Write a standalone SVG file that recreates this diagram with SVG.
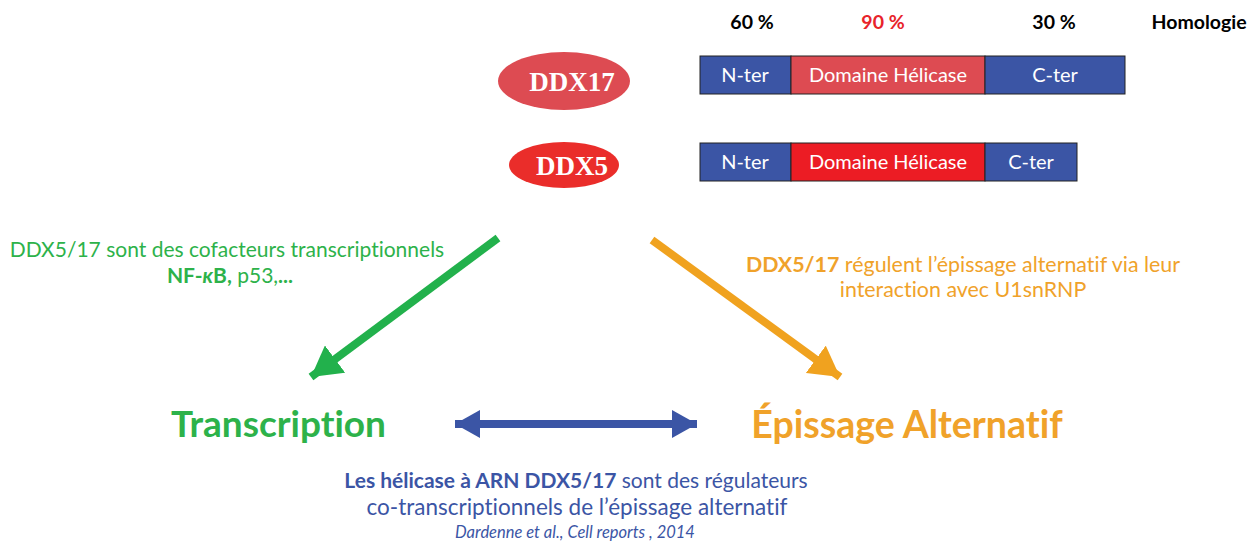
<svg xmlns="http://www.w3.org/2000/svg" width="1255" height="544" viewBox="0 0 1255 544">
<style>
.lab{font-family:Lato,"Open Sans","Liberation Sans",sans-serif;font-variant-ligatures:none}
.hd{font-size:19.5px;font-weight:bold;text-anchor:middle}
.bt{font-size:20px;fill:#fff;text-anchor:middle}
.ell{font-family:"Liberation Serif",serif;font-weight:bold;font-size:27px;fill:#fff;text-anchor:middle}
.seg{stroke:#222;stroke-width:1}
.g{fill:#2DB24A}
.o{fill:#F0A22A}
.b{fill:#3B55A5}
</style>
<defs>
<marker id="ag" markerUnits="userSpaceOnUse" markerWidth="32" markerHeight="34" refX="30" refY="17" orient="auto"><path d="M0,0 L30,17 L0,34 Z" fill="#22B14C"/></marker>
<marker id="ao" markerUnits="userSpaceOnUse" markerWidth="32" markerHeight="34" refX="30" refY="17" orient="auto"><path d="M0,0 L30,17 L0,34 Z" fill="#F0A21F"/></marker>
<marker id="ab" markerUnits="userSpaceOnUse" markerWidth="26" markerHeight="28" refX="25" refY="14" orient="auto-start-reverse"><path d="M0,0 L25,14 L0,28 Z" fill="#3B55A5"/></marker>
</defs>
<rect width="1255" height="544" fill="#fff"/>

<g id="headers" class="lab">
<text class="hd" x="752" y="29" fill="#000">60 %</text>
<text class="hd" x="883" y="29" fill="#E8232A">90 %</text>
<text class="hd" x="1054" y="29" fill="#000">30 %</text>
<text class="hd" x="1199" y="29" fill="#000">Homologie</text>
</g>

<g id="ddx17">
<ellipse cx="564" cy="81" rx="66" ry="29" fill="#DD4B52"/>
<text class="ell" x="572" y="91">DDX17</text>
</g>
<g id="ddx17-bar" class="lab">
<rect class="seg" x="700" y="56" width="91" height="38" fill="#3B55A5"/>
<rect class="seg" x="791" y="56" width="194" height="38" fill="#DD4B52"/>
<rect class="seg" x="985" y="56" width="140" height="38" fill="#3B55A5"/>
<text class="bt" x="745" y="82">N-ter</text>
<text class="bt" x="888" y="82">Domaine Hélicase</text>
<text class="bt" x="1055" y="82">C-ter</text>
</g>

<g id="ddx5">
<ellipse cx="564" cy="165" rx="55" ry="23" fill="#EA2D2A"/>
<text class="ell" x="572" y="175">DDX5</text>
</g>
<g id="ddx5-bar" class="lab">
<rect class="seg" x="700" y="143" width="91" height="38" fill="#3B55A5"/>
<rect class="seg" x="791" y="143" width="194" height="38" fill="#EC1C24"/>
<rect class="seg" x="985" y="143" width="92" height="38" fill="#3B55A5"/>
<text class="bt" x="745" y="169">N-ter</text>
<text class="bt" x="888" y="169">Domaine Hélicase</text>
<text class="bt" x="1031" y="169">C-ter</text>
</g>

<g id="connectors">
<line x1="498" y1="238" x2="311" y2="377" stroke="#22B14C" stroke-width="8" marker-end="url(#ag)"/>
<line x1="652" y1="240" x2="840" y2="377" stroke="#F0A21F" stroke-width="8" marker-end="url(#ao)"/>
<line x1="455" y1="424" x2="697" y2="424" stroke="#3B55A5" stroke-width="8" marker-start="url(#ab)" marker-end="url(#ab)"/>
</g>

<g id="green-label" class="lab g" text-anchor="middle" font-size="21">
<text x="227" y="257">DDX5/17 sont des cofacteurs transcriptionnels</text>
<text x="230" y="283"><tspan font-weight="bold">NF-</tspan><tspan font-weight="bold" font-style="italic">κ</tspan><tspan font-weight="bold">B,</tspan> p53,<tspan font-weight="bold">...</tspan></text>
</g>

<g id="orange-label" class="lab o" text-anchor="middle" font-size="21.4">
<text x="963" y="272"><tspan font-weight="bold">DDX5/17</tspan> régulent l’épissage alternatif via leur</text>
<text x="963" y="297">interaction avec U1snRNP</text>
</g>

<g id="transcription" class="lab g">
<text x="278.5" y="437" font-size="37" font-weight="bold" text-anchor="middle">Transcription</text>
</g>
<g id="epissage" class="lab o">
<text x="907" y="438" font-size="37.5" font-weight="bold" text-anchor="middle">Épissage Alternatif</text>
</g>

<g id="blue-label" class="lab b" text-anchor="middle">
<text x="576" y="488" font-size="21"><tspan font-weight="bold">Les hélicase à ARN DDX5/17</tspan> sont des régulateurs</text>
<text x="577" y="515" font-size="22.5">co-transcriptionnels de l’épissage alternatif</text>
<text x="575" y="538" font-size="16.5" font-style="italic">Dardenne et al., Cell reports , 2014</text>
</g>
</svg>
